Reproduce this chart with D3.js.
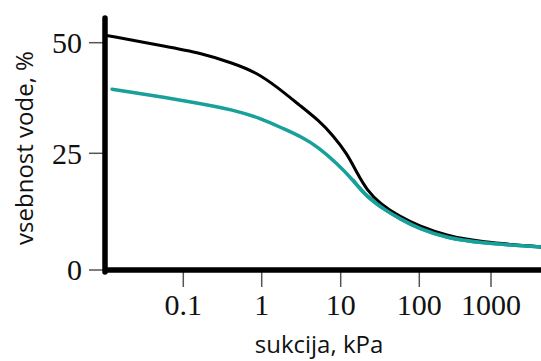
<!DOCTYPE html>
<html>
<head>
<meta charset="utf-8">
<script src="https://cdn.jsdelivr.net/npm/d3@7"></script>
<style>
  body { margin: 0; background: #fff; }
  svg { display: block; }
</style>
</head>
<body>
<div class="chart"></div>
<script>
// suction (kPa) and water content (%)
var blackX = [0.01, 0.062, 0.163, 0.43, 0.87, 1.56, 3.05, 5.47, 8.0, 12, 16.1, 21.6, 31.6, 56.7, 100, 243, 703, 5000];
var blackY = [51.7, 49.1, 47.7, 45.4, 43.2, 40.0, 35.8, 32.2, 29.0, 25.0, 20.8, 17.1, 14.2, 11.4, 9.4, 7.3, 6.0, 4.95];

var tealX = [0.0123, 0.163, 0.43, 0.95, 1.86, 3.3, 5.16, 8.9, 14.3, 21.6, 38.8, 56.7, 100, 243, 703, 5000];
var tealY = [39.5, 36.35, 34.8, 33.0, 30.6, 28.6, 26.4, 22.9, 19.3, 15.6, 12.6, 11.0, 8.8, 6.86, 5.78, 4.93];

var xTicks = [0.1, 1, 10, 100, 1000];
var xTickLabels = ['0.1', '1', '10', '100', '1000'];
var yTicks = [0, 25, 50];

var width = 541, height = 361;

var svg = d3.select('.chart')
  .append('svg')
  .attr('width', width)
  .attr('height', height);

// the drawing is not evenly spaced, so both scales are piecewise
var xScale = d3.scaleLog()
  .domain([0.01, 0.1, 1, 10, 100, 1000, 5000])
  .range([105, 183.3, 261.7, 340.7, 419.3, 491, 541]);

var yScale = d3.scaleLinear()
  .domain([0, 25, 50])
  .range([270, 153.3, 42.7]);

// tick marks + labels
svg.selectAll('.ytick')
  .data(yTicks)
  .enter()
  .append('line')
  .attr('class', 'ytick')
  .attr('x1', 89).attr('x2', 104)
  .attr('y1', d => yScale(d)).attr('y2', d => yScale(d))
  .style('stroke', '#555')
  .style('stroke-width', 1.5);

svg.selectAll('.ylab')
  .data(yTicks)
  .enter()
  .append('text')
  .attr('class', 'ylab')
  .attr('x', 82)
  .attr('y', d => yScale(d))
  .attr('dy', '0.34em')
  .style('text-anchor', 'end')
  .style('font-family', 'Liberation Serif, serif')
  .style('font-size', '30px')
  .style('fill', '#111')
  .text(d => d);

svg.selectAll('.xtick')
  .data(xTicks)
  .enter()
  .append('line')
  .attr('class', 'xtick')
  .attr('x1', d => xScale(d)).attr('x2', d => xScale(d))
  .attr('y1', 272).attr('y2', 287)
  .style('stroke', '#555')
  .style('stroke-width', 1.5);

svg.selectAll('.xlab')
  .data(xTicks)
  .enter()
  .append('text')
  .attr('class', 'xlab')
  .attr('x', d => xScale(d))
  .attr('y', 315)
  .style('text-anchor', 'middle')
  .style('font-family', 'Liberation Serif, serif')
  .style('font-size', '30px')
  .style('fill', '#111')
  .text((d, i) => xTickLabels[i]);

// curves (b-spline smooths out reading noise)
var line = d3.line()
  .x(d => xScale(d[0]))
  .y(d => yScale(d[1]))
  .curve(d3.curveBasis);

svg.append('path')
  .attr('d', line(d3.zip(tealX, tealY)))
  .style('fill', 'none')
  .style('stroke', '#18a09b')
  .style('stroke-width', 3.5)
  .style('stroke-linecap', 'round');

svg.append('path')
  .attr('d', line(d3.zip(blackX, blackY)))
  .style('fill', 'none')
  .style('stroke', '#000')
  .style('stroke-width', 3)
  .style('stroke-linejoin', 'round');

// teal lies on top of black in the tail
svg.append('path')
  .attr('d', line(d3.zip(tealX, tealY).filter(d => d[0] >= 14)))
  .style('fill', 'none')
  .style('stroke', '#18a09b')
  .style('stroke-width', 3.5);

// thick axis lines
svg.append('line')
  .attr('x1', 105).attr('x2', 541)
  .attr('y1', 270).attr('y2', 270)
  .style('stroke', '#000')
  .style('stroke-width', 5.5);

svg.append('line')
  .attr('x1', 105).attr('x2', 105)
  .attr('y1', 18).attr('y2', 272)
  .style('stroke', '#000')
  .style('stroke-width', 5.5)
  .style('stroke-linecap', 'round');

// axis titles
svg.append('text')
  .attr('transform', 'translate(33,148) rotate(-90)')
  .style('text-anchor', 'middle')
  .style('font-family', 'Open Sans, sans-serif')
  .style('font-size', '24px')
  .style('fill', '#111')
  .text('vsebnost vode, %');

svg.append('text')
  .attr('x', 319)
  .attr('y', 353)
  .style('text-anchor', 'middle')
  .style('font-family', 'Open Sans, sans-serif')
  .style('font-size', '24px')
  .style('fill', '#111')
  .text('sukcija, kPa');
</script>
</body>
</html>
